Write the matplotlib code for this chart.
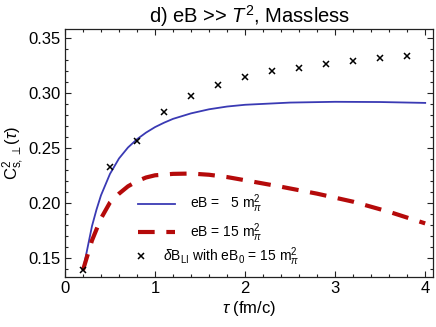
import matplotlib
matplotlib.use("Agg")
import matplotlib.pyplot as plt
from matplotlib.ticker import MultipleLocator
from matplotlib.lines import Line2D

plt.rcParams['font.family'] = ['Liberation Sans', 'DejaVu Sans']
plt.rcParams['mathtext.fontset'] = 'custom'
plt.rcParams['mathtext.rm'] = 'Liberation Sans'
plt.rcParams['mathtext.it'] = 'Liberation Sans:italic'
plt.rcParams['mathtext.bf'] = 'Liberation Sans:bold'

# eB = 5 m_pi^2 (solid blue)
tau_blue = [0.2, 0.25, 0.3, 0.35, 0.4, 0.5, 0.6, 0.7, 0.8, 0.9, 1.0, 1.1, 1.2, 1.4,
            1.6, 1.8, 2.0, 2.5, 3.0, 3.5, 4.0]
cs_blue = [0.139, 0.159, 0.179, 0.194, 0.207, 0.2265, 0.2405, 0.2505, 0.258, 0.264,
           0.269, 0.273, 0.2765, 0.2815, 0.2852, 0.2877, 0.2893, 0.2913, 0.292, 0.2918,
           0.291]

# eB = 15 m_pi^2 (dashed red)
tau_red = [0.2, 0.3, 0.4, 0.5, 0.6, 0.7, 0.8, 0.9, 1.0, 1.2, 1.4, 1.6, 1.8, 2.0,
           2.4, 2.8, 3.2, 3.6, 4.0]
cs_red = [0.139, 0.166, 0.186, 0.2005, 0.2085, 0.2152, 0.2198, 0.2232, 0.2252, 0.2265,
          0.2268, 0.2257, 0.2236, 0.2207, 0.2148, 0.2085, 0.2012, 0.192, 0.1815]

# delta B_LI with eB_0 = 15 m_pi^2 (crosses)
tau_mark = [0.2, 0.5, 0.8, 1.1, 1.4, 1.7, 2.0, 2.3, 2.6, 2.9, 3.2, 3.5, 3.8]
cs_mark = [0.139, 0.2325, 0.2566, 0.2825, 0.2973, 0.3073, 0.3143, 0.320, 0.3225,
           0.3264, 0.3294, 0.3315, 0.3339]

label_blue = r'eB =   5 $\mathrm{m}_{\pi}^{2}$'
label_red = r'eB = 15 $\mathrm{m}_{\pi}^{2}$'
label_mark = r'$\delta$B$_{\mathrm{LI}}$ with eB$_{0}$ = 15 $\mathrm{m}_{\pi}^{2}$'

fig = plt.figure(figsize=(4.36, 3.27), dpi=100)
ax = fig.add_axes([0.149, 0.152, 0.9938 - 0.149, 0.9104 - 0.152])

l1, = ax.plot(tau_blue, cs_blue, color='#3a3ab4', lw=1.3, label=label_blue)
l2, = ax.plot(tau_red, cs_red, color='#b50a0a', lw=3.0, linestyle=(0, (4.0, 2.8)),
              label=label_red)
m1, = ax.plot(tau_mark, cs_mark, linestyle='none', marker='x', color='black',
              markersize=4.8, markeredgewidth=1.1, label=label_mark)

ax.set_xlim(0, 4.09)
ax.set_ylim(0.1325, 0.3579)
ax.xaxis.set_major_locator(MultipleLocator(1))
ax.xaxis.set_minor_locator(MultipleLocator(0.2))
ax.yaxis.set_major_locator(MultipleLocator(0.05))
ax.yaxis.set_minor_locator(MultipleLocator(0.01))
ax.yaxis.set_major_formatter(matplotlib.ticker.FormatStrFormatter('%.2f'))
ax.tick_params(which='both', direction='in', top=True, right=True, labelsize=12,
               width=0.8, colors='#222222', labelcolor='black')
ax.tick_params(which='major', length=4.5, pad=3)
ax.tick_params(which='minor', length=2.3)
for s in ax.spines.values():
    s.set_linewidth(0.9)
    s.set_color('#222222')

ax.set_title(r'd) eB >> $T^{2}$, Massless', fontsize=14.5, pad=4)
ax.set_xlabel(r'$\tau$ (fm/c)', fontsize=12, labelpad=2)
ax.set_ylabel(r'$\mathrm{C}^{2}_{\mathrm{s},\perp}(\tau)$', fontsize=12, labelpad=2)

leg1 = ax.legend(handles=[l1, l2], loc='center left', bbox_to_anchor=(0.198, 0.237),
                 frameon=False, fontsize=10, handlelength=2.65, handletextpad=1.1,
                 borderpad=0, borderaxespad=0, labelspacing=0.45)
ax.add_artist(leg1)
leg2 = ax.legend(handles=[m1], loc='center left', bbox_to_anchor=(0.193, 0.082),
                 frameon=False, fontsize=10, handlelength=0.7, handletextpad=1.25,
                 borderpad=0, borderaxespad=0)

fig.savefig('out.png', dpi=100)
